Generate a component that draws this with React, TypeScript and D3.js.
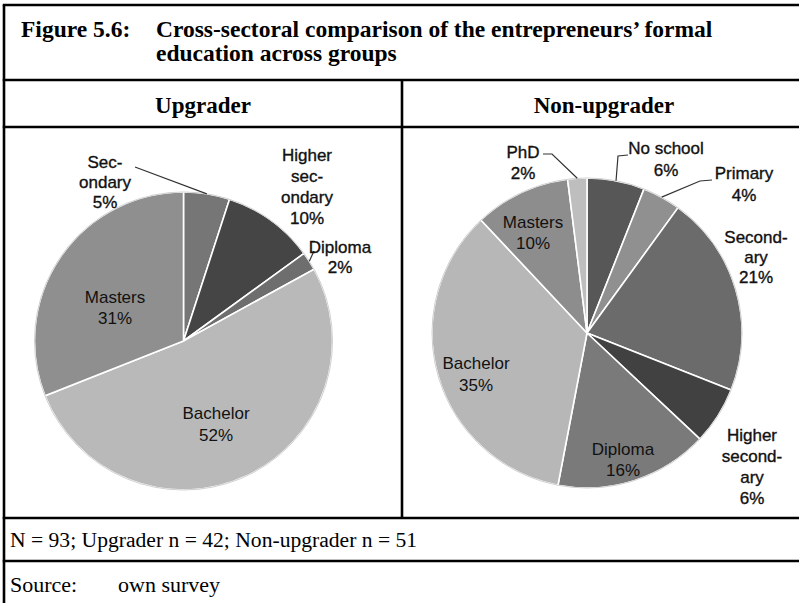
import React from "react";
import * as d3 from "d3";

// data (percent of entrepreneurs, clockwise from 12 o'clock)
const upgraderCategories = ["Secondary", "Higher secondary", "Diploma", "Bachelor", "Masters"];
const upgraderValues = [5, 10, 2, 52, 31];
const upgraderLabelLines = [["Sec-", "ondary"], ["Higher", "sec-", "ondary"], ["Diploma"], ["Bachelor"], ["Masters"]];

const nonUpgraderCategories = ["No school", "Primary", "Secondary", "Higher secondary", "Diploma", "Bachelor", "Masters", "PhD"];
const nonUpgraderValues = [6, 4, 21, 6, 16, 35, 10, 2];
const nonUpgraderLabelLines = [["No school"], ["Primary"], ["Second-", "ary"], ["Higher", "second-", "ary"], ["Diploma"], ["Bachelor"], ["Masters"], ["PhD"]];

const groupTitles = ["Upgrader", "Non-upgrader"];
const titleLines = ["Cross-sectoral comparison of the entrepreneurs\u2019 formal", "education across groups"];
const noteText = "N = 93; Upgrader n = 42; Non-upgrader n = 51";

// greys of the slices
const upgraderColors = ["#767676", "#454545", "#6e6e6e", "#b9b9b9", "#8f8f8f"];
const nonUpgraderColors = ["#575757", "#909090", "#6b6b6b", "#414141", "#7a7a7a", "#b7b7b7", "#8d8d8d", "#bebebe"];

// label placement relative to pie centre: offsets, line height, outside?, leader elbow points
type Place = { dx: number; dy: number; lh: number; out: boolean; leader?: number[][] };
const upgraderPlaces: Place[] = [
  { dx: -78.5, dy: -179, lh: 20, out: true, leader: [[-48.5, -174]] },
  { dx: 123.5, dy: -186, lh: 21, out: true },
  { dx: 156.5, dy: -94, lh: 20, out: true, leader: [[130.5, -90]] },
  { dx: 32.5, dy: 72, lh: 22, out: false },
  { dx: -68.5, dy: -44, lh: 21, out: false },
];
const nonUpgraderPlaces: Place[] = [
  { dx: 79, dy: -185, lh: 22, out: true, leader: [[31, -177], [41, -178]] },
  { dx: 157, dy: -160, lh: 22, out: true, leader: [[113, -152], [125, -153]] },
  { dx: 169, dy: -96, lh: 20, out: true },
  { dx: 165, dy: 102, lh: 21, out: true },
  { dx: 36, dy: 116, lh: 21, out: false },
  { dx: -111, dy: 30, lh: 22, out: false },
  { dx: -54, dy: -111, lh: 21, out: false },
  { dx: -64, dy: -181, lh: 21, out: true, leader: [[-35, -179], [-44, -179]] },
];

const serif = "'Liberation Serif', 'Times New Roman', serif";
const sans = "'Liberation Sans', Arial, sans-serif";

function Pie({ cx, cy, r, values, lines, colors, places }: any) {
  const pie = d3.pie<number>().value((d) => d).sort(null);
  const arcs = pie(values);
  const arc = d3.arc<d3.PieArcDatum<number>>().innerRadius(0).outerRadius(r);
  const fs = 17;
  return (
    <g transform={`translate(${cx},${cy})`}>
      {arcs.map((a, i) => (
        <path key={i} d={arc(a) || ""} fill={colors[i]} stroke="#fff" strokeWidth={1.6} />
      ))}
      <circle r={r} fill="none" stroke="#d0d0d0" strokeWidth={1} />
      {arcs.map((a, i) => {
        const p = places[i];
        if (!p.leader) return null;
        const mid = (a.startAngle + a.endAngle) / 2;
        const start = [Math.sin(mid) * r, -Math.cos(mid) * r];
        const pts = [start, ...p.leader];
        return (
          <polyline key={"l" + i} points={pts.map((q: number[]) => q.join(",")).join(" ")}
            fill="none" stroke="#333" strokeWidth={1.2} />
        );
      })}
      {arcs.map((a, i) => {
        const p = places[i];
        const all = [...lines[i], `${values[i]}%`];
        return (
          <text key={"t" + i} fontFamily={sans} fontSize={fs} fill="#111" textAnchor="middle"
            stroke={p.out ? "#111" : "none"} strokeWidth={p.out ? 0.35 : 0}>
            {all.map((s: string, k: number) => (
              <tspan key={k} x={p.dx} y={p.dy + k * p.lh + 6}>{s}</tspan>
            ))}
          </text>
        );
      })}
    </g>
  );
}

export default function App() {
  const W = 799, H = 603;
  const left = 4, right = 806, mid = 402;
  const rows = [5, 80, 127, 518, 561];
  return (
    <svg width={W} height={H} style={{ position: "absolute", left: 0, top: 0, background: "#fff" }}>
      <rect width={W} height={H} fill="#fff" />
      {/* table frame */}
      {rows.map((y) => (
        <line key={y} x1={left - 1.25} x2={right} y1={y} y2={y} stroke="#000" strokeWidth={2.6} />
      ))}
      <line x1={left} x2={left} y1={rows[0]} y2={H + 5} stroke="#000" strokeWidth={2.6} />
      <line x1={mid} x2={mid} y1={rows[1]} y2={rows[3]} stroke="#000" strokeWidth={2.6} />

      <text x={21} y={37} fontFamily={serif} fontWeight="bold" fontSize={23.5}>Figure 5.6:</text>
      {titleLines.map((t, i) => (
        <text key={i} x={156} y={37 + i * 24} fontFamily={serif} fontWeight="bold" fontSize={23.5}>{t}</text>
      ))}
      <text x={203} y={113} textAnchor="middle" fontFamily={serif} fontWeight="bold" fontSize={23}>{groupTitles[0]}</text>
      <text x={604} y={113} textAnchor="middle" fontFamily={serif} fontWeight="bold" fontSize={23}>{groupTitles[1]}</text>

      <Pie cx={183.5} cy={341} r={149} values={upgraderValues} lines={upgraderLabelLines}
        colors={upgraderColors} places={upgraderPlaces} names={upgraderCategories} />
      <Pie cx={587} cy={333} r={155} values={nonUpgraderValues} lines={nonUpgraderLabelLines}
        colors={nonUpgraderColors} places={nonUpgraderPlaces} names={nonUpgraderCategories} />

      <text x={10} y={547} fontFamily={serif} fontSize={21.6}>{noteText}</text>
      <text x={10} y={592} fontFamily={serif} fontSize={22}>Source:</text>
      <text x={118} y={592} fontFamily={serif} fontSize={22}>own survey</text>
    </svg>
  );
}
